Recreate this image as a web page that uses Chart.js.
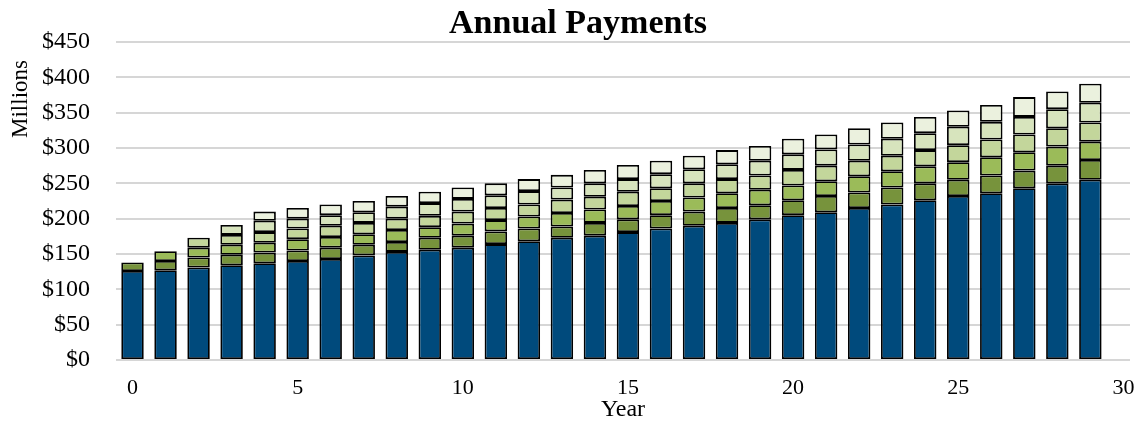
<!DOCTYPE html>
<html>
<head>
<meta charset="utf-8">
<title>Annual Payments</title>
<script src="https://cdn.jsdelivr.net/npm/chart.js@4.4.1/dist/chart.umd.min.js"></script>
<style>
  html, body { margin: 0; padding: 0; background: #fff; }
  #wrap { width: 1135px; height: 426px; }
</style>
</head>
<body>
<div id="wrap"><canvas id="payments"></canvas></div>
<script>
// payment year for each bar
var years = [0, 1, 2, 3, 4, 5, 6, 7, 8, 9, 10, 11, 12, 13, 14, 15, 16, 17, 18, 19, 20, 21, 22, 23, 24, 25, 26, 27, 28, 29];

// stacked components, $ millions (bottom to top)
var basePayment = [126, 127, 131, 134, 137, 140, 143, 148, 153, 156, 159, 164, 168, 173, 176, 181, 186, 190, 194, 199, 205, 209, 215, 220, 226, 232, 236, 243, 250, 255];
var tranche1 = [12, 13, 14, 15, 15, 15, 16, 15, 14, 17, 17, 18, 18, 16, 18, 18, 19, 20, 21, 20, 21, 23, 22, 24, 24, 23, 25, 25, 25, 28];
var tranche2 = [null, 14, 14, 14, 14, 16, 15, 15, 17, 15, 17, 16, 17, 19, 19, 19, 20, 20, 21, 22, 21, 21, 23, 23, 24, 25, 26, 26, 27, 26];
var tranche3 = [null, null, 14, 14, 15, 15, 16, 16, 16, 16, 17, 17, 17, 19, 18, 20, 18, 20, 20, 20, 22, 22, 22, 22, 23, 24, 25, 25, 26, 27];
var tranche4 = [null, null, null, 14, 16, 14, 15, 15, 17, 18, 18, 18, 19, 17, 19, 18, 20, 20, 21, 21, 22, 23, 23, 24, 24, 26, 25, 25, 27, 28];
var tranche5 = [null, null, null, null, 13, 15, 15, 16, 15, 16, 16, 17, 17, 18, 19, 20, 19, 19, 20, 21, 22, 21, 23, 23, 23, 23, 24, 28, 25, 27];

var xTickValues = [0, 5, 10, 15, 20, 25, 30];
var yTickValues = [0, 50, 100, 150, 200, 250, 300, 350, 400, 450];

var serif = '"Liberation Serif", "Times New Roman", serif';

function layer(label, values, color) {
    return {
        label: label,
        data: values,
        backgroundColor: color,
        borderColor: '#000000',
        borderWidth: 1.8,
        borderSkipped: false,
        inflateAmount: 0,
        barPercentage: 0.68,
        categoryPercentage: 1
    };
}

// chart title and the rotated y axis caption
var headings = {
    id: 'headings',
    afterDraw: function(chart) {
        var ctx = chart.ctx;
        ctx.save();
        ctx.fillStyle = '#000';
        ctx.textAlign = 'center';
        ctx.textBaseline = 'middle';
        ctx.font = 'bold 34px ' + serif;
        ctx.fillText('Annual Payments', 578, 24);
        ctx.translate(21, 99);
        ctx.rotate(-Math.PI / 2);
        ctx.font = '23px ' + serif;
        ctx.fillText('Millions', 0, 0);
        ctx.restore();
    }
};

var ctx = document.getElementById('payments');

var barGraph = new Chart(ctx, {
    type: 'bar',
    data: {
        labels: years,
        datasets: [
            layer('Base', basePayment, '#004A7C'),
            layer('Tranche 1', tranche1, '#77933C'),
            layer('Tranche 2', tranche2, '#9BBB59'),
            layer('Tranche 3', tranche3, '#C3D69B'),
            layer('Tranche 4', tranche4, '#D7E4BD'),
            layer('Tranche 5', tranche5, '#EBF1DE')
        ]
    },
    options: {
        responsive: true,
        maintainAspectRatio: false,
        animation: false,
        layout: { padding: { top: 42, right: 5, left: 0, bottom: 0 } },
        plugins: {
            legend: { display: false },
            tooltip: { enabled: false }
        },
        scales: {
            x: {
                type: 'linear',
                stacked: true,
                offset: false,
                min: -0.5,
                max: 30.2,
                grid: { display: false, offset: false },
                border: { display: false },
                afterBuildTicks: function(scale) {
                    scale.ticks = xTickValues.map(function(v) { return { value: v }; });
                },
                afterFit: function(scale) {
                    scale.height = 66;
                    scale.paddingLeft = 0;
                    scale.paddingRight = 0;
                },
                ticks: {
                    color: '#000',
                    padding: 7,
                    maxRotation: 0,
                    font: { family: serif, size: 22 }
                },
                title: {
                    display: true,
                    text: 'Year',
                    color: '#000',
                    padding: { top: 0, bottom: 2 },
                    font: { family: serif, size: 24 }
                }
            },
            y: {
                stacked: true,
                min: 0,
                max: 450,
                afterBuildTicks: function(scale) {
                    scale.ticks = yTickValues.map(function(v) { return { value: v }; });
                },
                afterFit: function(scale) { scale.width = 116; },
                grid: { color: '#d6d6d6', lineWidth: 2, drawTicks: false },
                border: { display: false },
                ticks: {
                    color: '#000',
                    padding: 26,
                    font: { family: serif, size: 24 },
                    callback: function(value) { return '$' + value; }
                }
            }
        }
    },
    plugins: [headings]
});
</script>
</body>
</html>
